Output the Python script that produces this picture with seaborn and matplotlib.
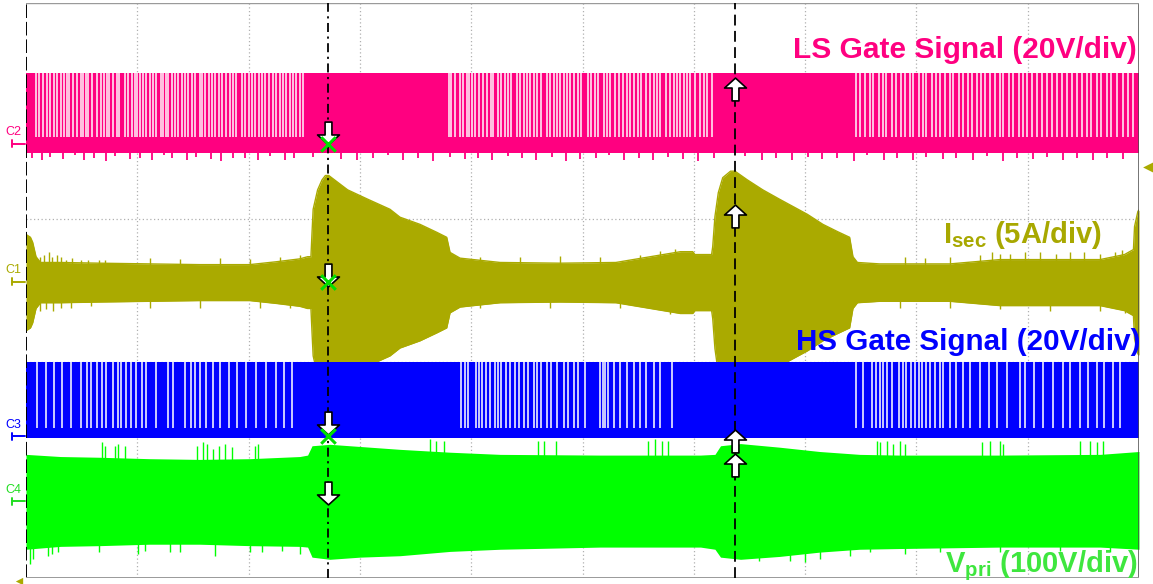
import matplotlib
matplotlib.use("Agg")
import matplotlib.pyplot as plt
from matplotlib.path import Path
import numpy as np
import pandas as pd
import seaborn as sns

# ---------------- data (time in divisions 0..10, amplitude in divisions -4..4) ----------------
cursor_t = [2.71, 6.37]

# C2 : LS gate signal
ls_t = [0.0, 10.0]
ls_top = [3.03, 3.03]
ls_bot = [1.91, 1.91]
ls_gap_hi, ls_gap_lo = 3.03, 2.13
ls_gaps = [0.09, 0.12, 0.15, 0.19, 0.22, 0.25, 0.28, 0.31, 0.34, 0.37, 0.39, 0.42, 0.46, 0.49, 0.51,
           0.54, 0.56, 0.59, 0.64, 0.67, 0.70, 0.73, 0.75, 0.78, 0.82, 0.84, 0.89, 0.92, 0.95, 0.98,
           1.00, 1.02, 1.05, 1.08, 1.11, 1.14, 1.17, 1.21, 1.23, 1.26, 1.28, 1.31, 1.34, 1.37, 1.40,
           1.43, 1.46, 1.49, 1.52, 1.56, 1.58, 1.61, 1.64, 1.67, 1.70, 1.73, 1.76, 1.80, 1.83, 1.86,
           1.89, 1.94, 1.97, 2.00, 2.03, 2.06, 2.09, 2.12, 2.15, 2.18, 2.22, 2.25, 2.28, 2.31, 2.34,
           2.37, 2.40, 2.43, 2.46, 2.49,
           3.80, 3.82, 3.85, 3.90, 3.93, 3.96, 3.98, 4.01, 4.03, 4.07, 4.11, 4.14, 4.18, 4.20, 4.24,
           4.27, 4.30, 4.33, 4.36, 4.41, 4.44, 4.47, 4.50, 4.53, 4.56, 4.59, 4.63, 4.68, 4.71, 4.74,
           4.77, 4.80, 4.83, 4.86, 4.89, 4.92, 4.96, 4.99, 5.05, 5.08, 5.11, 5.14, 5.19, 5.22, 5.25,
           5.29, 5.33, 5.36, 5.40, 5.43, 5.46, 5.50, 5.53, 5.57, 5.61, 5.64, 5.67, 5.70, 5.75, 5.79,
           5.82, 5.85, 5.88, 5.91, 5.94, 5.97, 6.01, 6.06, 6.09, 6.12, 6.16,
           7.46, 7.49, 7.54, 7.58, 7.61, 7.66, 7.70, 7.73, 7.78, 7.82, 7.86, 7.90, 7.94, 7.97, 8.02,
           8.06, 8.09, 8.14, 8.18, 8.21, 8.26, 8.30, 8.33, 8.38, 8.42, 8.46, 8.50, 8.54, 8.58, 8.62,
           8.66, 8.71, 8.75, 8.78, 8.83, 8.87, 8.92, 8.96, 8.99, 9.04, 9.08, 9.13, 9.17, 9.22, 9.26,
           9.31, 9.35, 9.40, 9.44, 9.49, 9.53, 9.57, 9.62, 9.66, 9.71, 9.75, 9.80, 9.86, 9.90, 9.95]
ls_spk_t = [0.05, 0.14, 0.22, 0.33, 0.44, 0.52, 0.61, 0.72, 0.80, 0.93, 1.02, 1.13, 1.24, 1.31, 1.45,
            1.53, 1.66, 1.75, 1.86, 1.97, 2.08, 2.19, 2.33, 2.41, 2.58, 2.83, 2.97, 3.12, 3.25, 3.39,
            3.52, 3.66, 3.81, 3.94, 4.06, 4.19, 4.33, 4.46, 4.58, 4.73, 4.85, 4.98, 5.12, 5.24, 5.37,
            5.51, 5.63, 5.77, 5.90, 6.04, 6.18, 6.46, 6.61, 6.74, 6.88, 7.03, 7.15, 7.29, 7.44, 7.56,
            7.71, 7.83, 7.97, 8.09, 8.24, 8.36, 8.51, 8.63, 8.78, 8.90, 9.05, 9.17, 9.32, 9.44, 9.59,
            9.71, 9.86]
ls_spk_v = [1.84, 1.81, 1.86, 1.83, 1.88, 1.82, 1.85, 1.80, 1.87, 1.83, 1.84, 1.81, 1.88, 1.85, 1.82,
            1.86, 1.83, 1.80, 1.85, 1.84, 1.82, 1.87, 1.81, 1.84, 1.86, 1.83, 1.81, 1.85, 1.88, 1.82,
            1.84, 1.80, 1.86, 1.83, 1.85, 1.81, 1.87, 1.84, 1.82, 1.86, 1.80, 1.83, 1.85, 1.88, 1.81,
            1.84, 1.82, 1.86, 1.83, 1.80, 1.85, 1.87, 1.82, 1.84, 1.81, 1.86, 1.83, 1.85, 1.80, 1.88,
            1.82, 1.84, 1.81, 1.86, 1.83, 1.85, 1.82, 1.87, 1.80, 1.84, 1.83, 1.86, 1.81, 1.85, 1.82,
            1.84, 1.83]

# C1 : secondary current
isec_t = [0.00, 0.04, 0.06, 0.09, 0.13, 0.31, 0.66, 1.11, 1.56, 2.01, 2.25, 2.46, 2.53, 2.56, 2.57,
          2.58, 2.62, 2.66, 2.69, 2.72, 2.89, 3.07, 3.27, 3.36, 3.54, 3.69, 3.78, 3.81, 3.90, 4.26,
          4.80, 5.30, 5.88, 5.99, 6.01, 6.16, 6.17, 6.19, 6.22, 6.26, 6.33, 6.37, 6.48, 6.62, 6.77,
          7.02, 7.16, 7.29, 7.40, 7.43, 7.47, 7.67, 8.30, 8.75, 9.20, 9.65, 9.87, 9.95, 9.96, 9.99, 10.0]
isec_top = [0.78, 0.74, 0.67, 0.47, 0.39, 0.39, 0.38, 0.37, 0.36, 0.36, 0.40, 0.44, 0.47, 0.47, 0.81,
            1.13, 1.40, 1.54, 1.60, 1.60, 1.40, 1.27, 1.13, 1.02, 0.92, 0.81, 0.74, 0.53, 0.45, 0.39,
            0.38, 0.39, 0.54, 0.54, 0.50, 0.50, 0.61, 1.03, 1.36, 1.57, 1.66, 1.66, 1.54, 1.40, 1.27,
            1.06, 0.92, 0.82, 0.74, 0.47, 0.39, 0.37, 0.37, 0.43, 0.43, 0.43, 0.50, 0.57, 0.89, 1.10, 1.12]
isec_bot = [-0.56, -0.52, -0.45, -0.25, -0.17, -0.17, -0.16, -0.15, -0.14, -0.14, -0.18, -0.22, -0.25,
            -0.25, -0.59, -0.91, -1.18, -1.32, -1.38, -1.38, -1.18, -1.05, -0.91, -0.80, -0.70, -0.59,
            -0.52, -0.31, -0.23, -0.17, -0.16, -0.17, -0.32, -0.32, -0.28, -0.28, -0.39, -0.81, -1.14,
            -1.35, -1.44, -1.44, -1.32, -1.18, -1.05, -0.84, -0.70, -0.60, -0.52, -0.25, -0.17, -0.15,
            -0.15, -0.21, -0.21, -0.21, -0.28, -0.35, -0.67, -0.88, -0.90]
isec_up_t = [0.13, 0.16, 0.21, 0.23, 0.28, 0.31, 0.36, 0.41, 0.49, 0.56, 0.66, 0.71, 1.11, 1.38, 1.74,
             2.01, 2.28, 2.46, 4.08, 4.44, 4.80, 5.16, 5.52, 5.70, 5.83, 7.90, 8.08, 8.30, 8.57, 8.68,
             8.75, 8.84, 8.98, 9.11, 9.25, 9.38, 9.51, 9.65, 9.78, 9.85]
isec_up_v = [0.46, 0.49, 0.53, 0.47, 0.50, 0.46, 0.43, 0.45, 0.43, 0.42, 0.43, 0.42, 0.45, 0.44, 0.45,
             0.44, 0.46, 0.50, 0.47, 0.46, 0.48, 0.47, 0.49, 0.55, 0.58, 0.46, 0.45, 0.47, 0.50, 0.53,
             0.51, 0.51, 0.53, 0.53, 0.51, 0.53, 0.53, 0.51, 0.54, 0.57]
isec_dn_t = [0.13, 0.18, 0.24, 0.31, 0.40, 0.58, 1.11, 1.56, 2.10, 2.37, 4.08, 4.71, 5.34, 5.79, 7.85,
             8.30, 8.75, 9.20, 9.65, 9.87]
isec_dn_v = [-0.29, -0.26, -0.28, -0.24, -0.24, -0.22, -0.24, -0.25, -0.24, -0.25, -0.24, -0.24, -0.24,
             -0.33, -0.24, -0.25, -0.26, -0.28, -0.28, -0.31]

# C3 : HS gate signal
hs_t = [0.0, 10.0]
hs_top = [-0.99, -0.99]
hs_bot = [-2.05, -2.05]
hs_gap_hi, hs_gap_lo = -0.99, -1.91
hs_gaps = [0.10, 0.18, 0.25, 0.32, 0.40, 0.49, 0.55, 0.58, 0.64, 0.68, 0.72, 0.78, 0.83, 0.85, 0.90,
           0.94, 0.99, 1.04, 1.08, 1.17, 1.28, 1.32, 1.43, 1.48, 1.52, 1.56, 1.62, 1.68, 1.74, 1.82,
           1.90, 1.98, 2.07, 2.16, 2.25, 2.32, 2.39,
           3.91, 3.94, 3.97, 4.04, 4.07, 4.10, 4.13, 4.17, 4.21, 4.24, 4.27, 4.31, 4.35, 4.39, 4.43,
           4.47, 4.51, 4.56, 4.59, 4.63, 4.68, 4.72, 4.77, 4.83, 4.87, 4.92, 4.96, 5.02, 5.16, 5.18,
           5.20, 5.23, 5.28, 5.34, 5.40, 5.46, 5.52, 5.57, 5.64, 5.70, 5.80,
           7.46, 7.52, 7.60, 7.64, 7.67, 7.70, 7.74, 7.78, 7.84, 7.88, 7.91, 7.95, 7.99, 8.02, 8.05,
           8.09, 8.12, 8.17, 8.21, 8.24, 8.30, 8.36, 8.42, 8.48, 8.57, 8.65, 8.72, 8.81, 8.93, 8.98,
           9.06, 9.14, 9.23, 9.32, 9.38, 9.47, 9.54, 9.62, 9.69, 9.77, 9.83]

# C4 : primary voltage
vpri_t = [0.00, 0.31, 0.66, 1.11, 1.56, 2.01, 2.46, 2.53, 2.57, 2.73, 3.00, 3.36, 3.81, 4.26, 5.16,
          6.06, 6.19, 6.24, 6.42, 6.77, 7.13, 7.49, 7.85, 8.75, 9.65, 10.0]
vpri_top = [-2.28, -2.31, -2.32, -2.34, -2.35, -2.34, -2.31, -2.29, -2.16, -2.14, -2.17, -2.21, -2.25,
            -2.28, -2.29, -2.29, -2.28, -2.16, -2.13, -2.18, -2.24, -2.28, -2.29, -2.29, -2.28, -2.24]
vpri_bot = [-3.60, -3.56, -3.55, -3.53, -3.53, -3.55, -3.56, -3.57, -3.71, -3.74, -3.71, -3.69, -3.63,
            -3.60, -3.57, -3.57, -3.60, -3.71, -3.74, -3.70, -3.64, -3.60, -3.59, -3.57, -3.57, -3.60]
vpri_up_t = [0.68, 0.71, 0.80, 0.83, 0.89, 1.54, 1.59, 1.63, 1.68, 1.73, 1.79, 1.85, 2.06, 2.08, 3.63,
             3.68, 3.76, 4.60, 4.65, 4.76, 5.59, 5.65, 5.71, 5.77, 7.65, 7.67, 7.74, 7.79, 7.85, 7.90,
             8.59, 8.66, 8.75, 8.78, 9.47, 9.56, 9.62, 9.68]
vpri_up_v = [-2.11, -2.16, -2.17, -2.14, -2.17, -2.17, -2.11, -2.14, -2.20, -2.16, -2.14, -2.18, -2.16,
             -2.13, -2.07, -2.10, -2.09, -2.10, -2.09, -2.10, -2.09, -2.07, -2.10, -2.09, -2.10, -2.11,
             -2.09, -2.13, -2.10, -2.14, -2.11, -2.10, -2.10, -2.13, -2.10, -2.09, -2.11, -2.10]
vpri_dn_t = [0.04, 0.06, 0.20, 0.23, 0.29, 0.66, 1.01, 1.07, 1.29, 1.38, 1.70, 2.01, 2.12, 2.30, 2.46,
             6.59, 6.86, 7.00, 7.13, 7.40, 7.58, 7.90, 8.21, 8.75, 9.29, 9.74]
vpri_dn_v = [-3.81, -3.74, -3.69, -3.67, -3.64, -3.64, -3.67, -3.63, -3.64, -3.64, -3.69, -3.64, -3.64,
             -3.63, -3.66, -3.77, -3.77, -3.78, -3.74, -3.69, -3.64, -3.67, -3.64, -3.64, -3.63, -3.64]

# cursor markers
arrow_down_v = [2.19, 0.22, -1.85, -2.82]      # at cursor 1
arrow_up_v = [2.80, 1.04, -2.10, -2.43]        # at cursor 2
cross_v = [2.04, 0.12, -2.03]                  # at cursor 1

# channel ground markers
chan_names = ["C2", "C1", "C3", "C4"]
chan_level = [2.04, 0.12, -2.03, -2.93]
trigger_level = 1.72

label_texts = ["LS Gate Signal (20V/div)", r"$\mathbf{I_{sec}}$ (5A/div)",
               "HS Gate Signal (20V/div)", r"$\mathbf{V_{pri}}$ (100V/div)"]

# ---------------- style ----------------
PINK, OLIVE, BLUE, GREEN = "#ff0080", "#aaaa00", "#0000ff", "#00ff00"
chan_colors = [PINK, OLIVE, BLUE, "#22dd22"]
label_colors = [PINK, "#a8a800", BLUE, "#3ee63e"]

sns.set_theme(style="white")
plt.rcParams["font.family"] = ["Liberation Sans", "DejaVu Sans"]
plt.rcParams["mathtext.fontset"] = "custom"
plt.rcParams["mathtext.rm"] = "Liberation Sans"
plt.rcParams["mathtext.bf"] = "Liberation Sans:bold"
plt.rcParams["mathtext.it"] = "Liberation Sans:italic"

W, H = 1153, 584
fig = plt.figure(figsize=(W / 100, H / 100), dpi=100)
fig.patch.set_facecolor("white")
ax = fig.add_axes([26 / W, 6 / H, 1113 / W, 575 / H])
ax.set_xlim(0, 10)
ax.set_ylim(-4, 4)
ax.axis("off")

# grid
for t in range(1, 10):
    ax.axvline(t, color="#b0b0b0", lw=0.9, ls=(0, (1, 2)), zorder=0)
for v in range(-3, 4):
    ax.axhline(v, color="#b0b0b0", lw=0.9, ls=(0, (1, 2)), zorder=0)

# C1 (drawn first, under blue)
ax.fill_between(isec_t, isec_bot, isec_top, color=OLIVE, lw=0, zorder=2)
sns.lineplot(x=isec_t, y=isec_top, ax=ax, color=OLIVE, lw=1.0, zorder=2, sort=False)
sns.lineplot(x=isec_t, y=isec_bot, ax=ax, color=OLIVE, lw=1.0, zorder=2, sort=False)
ax.vlines(isec_up_t, 0.2, isec_up_v, color=OLIVE, lw=1.0, zorder=2)
ax.vlines(isec_dn_t, 0.0, isec_dn_v, color=OLIVE, lw=1.0, zorder=2)

# C2
ax.fill_between(ls_t, ls_bot, ls_top, color=PINK, lw=0, zorder=2)
ax.vlines(ls_gaps, ls_gap_lo, ls_gap_hi, color="#ffdcee", lw=1.25, zorder=3)
n = min(len(ls_spk_t), len(ls_spk_v))
ax.vlines(ls_spk_t[:n], 1.95, ls_spk_v[:n], color=PINK, lw=1.3, zorder=2)

# C4
ax.fill_between(vpri_t, vpri_bot, vpri_top, color=GREEN, lw=0, zorder=2)
ax.vlines(vpri_up_t, -2.5, vpri_up_v, color=GREEN, lw=1.0, zorder=2)
ax.vlines(vpri_dn_t, -3.4, vpri_dn_v, color=GREEN, lw=1.0, zorder=2)

# C3
ax.fill_between(hs_t, hs_bot, hs_top, color=BLUE, lw=0, zorder=3)
ax.vlines(hs_gaps, hs_gap_lo, hs_gap_hi, color="#e4e4ff", lw=1.25, zorder=4)

# frame
ax.axvline(0, color="black", lw=1.4, ls=(0, (7, 2)), zorder=6)
ax.axvline(10, color="#4a4a4a", lw=1.8, zorder=6)
ax.axhline(4, color="#9a9a9a", lw=1.0, zorder=6)
ax.axhline(-4, color="#9a9a9a", lw=1.4, zorder=6)

# cursors
ax.axvline(cursor_t[0], color="black", lw=1.3, ls=(0, (5, 2.5, 1.2, 2.5)), zorder=6)
ax.axvline(cursor_t[1], color="black", lw=1.3, ls=(0, (6, 3)), zorder=6)

# cursor arrow markers
down_path = Path([(-0.3, 1), (0.3, 1), (0.3, -0.13), (0.96, -0.13), (0, -1), (-0.96, -0.13),
                  (-0.3, -0.13), (-0.3, 1)],
                 [Path.MOVETO] + [Path.LINETO] * 6 + [Path.CLOSEPOLY])
up_path = Path([(x, -y) for x, y in down_path.vertices], down_path.codes)
ax.scatter([cursor_t[0]] * len(arrow_down_v), arrow_down_v, marker=down_path, s=270,
           facecolor="white", edgecolor="black", lw=1.2, zorder=7)
ax.scatter([cursor_t[1]] * len(arrow_up_v), arrow_up_v, marker=up_path, s=270,
           facecolor="white", edgecolor="black", lw=1.2, zorder=7)
sns.scatterplot(x=[cursor_t[0]] * len(cross_v), y=cross_v, ax=ax, marker="x", s=110,
                color="#00e000", linewidth=2.2, zorder=8, legend=False)

# channel markers on the left
for name, lvl, col in zip(chan_names, chan_level, chan_colors):
    ax.text(-0.11, lvl + 0.16, name, color=col, fontsize=9, ha="center", va="center",
            clip_on=False, zorder=8)
    ax.plot([-0.125, -0.01], [lvl, lvl], color=col, lw=1.4, clip_on=False, zorder=8)
    ax.plot([-0.125, -0.125], [lvl - 0.05, lvl + 0.05], color=col, lw=1.4, clip_on=False, zorder=8)

# trigger marker (right) and time-position marker (bottom left)
ax.scatter([10.08], [trigger_level], marker="<", s=60, color=OLIVE, clip_on=False, zorder=8, lw=0)
ax.scatter([-0.06], [-4.04], marker="<", s=28, color=OLIVE, clip_on=False, zorder=8, lw=0)

# labels
label_pos = [(1137, 58), (1102, 243), (1140, 350), (1138, 572)]
label_size = [21.5, 21, 21.3, 21]
for txt, col, (px, py), fs in zip(label_texts, label_colors, label_pos, label_size):
    fig.text(px / W, 1 - py / H, txt, color=col, fontsize=fs, fontweight="bold",
             ha="right", va="baseline", zorder=10)

fig.savefig("out.png", dpi=100, facecolor="white")
